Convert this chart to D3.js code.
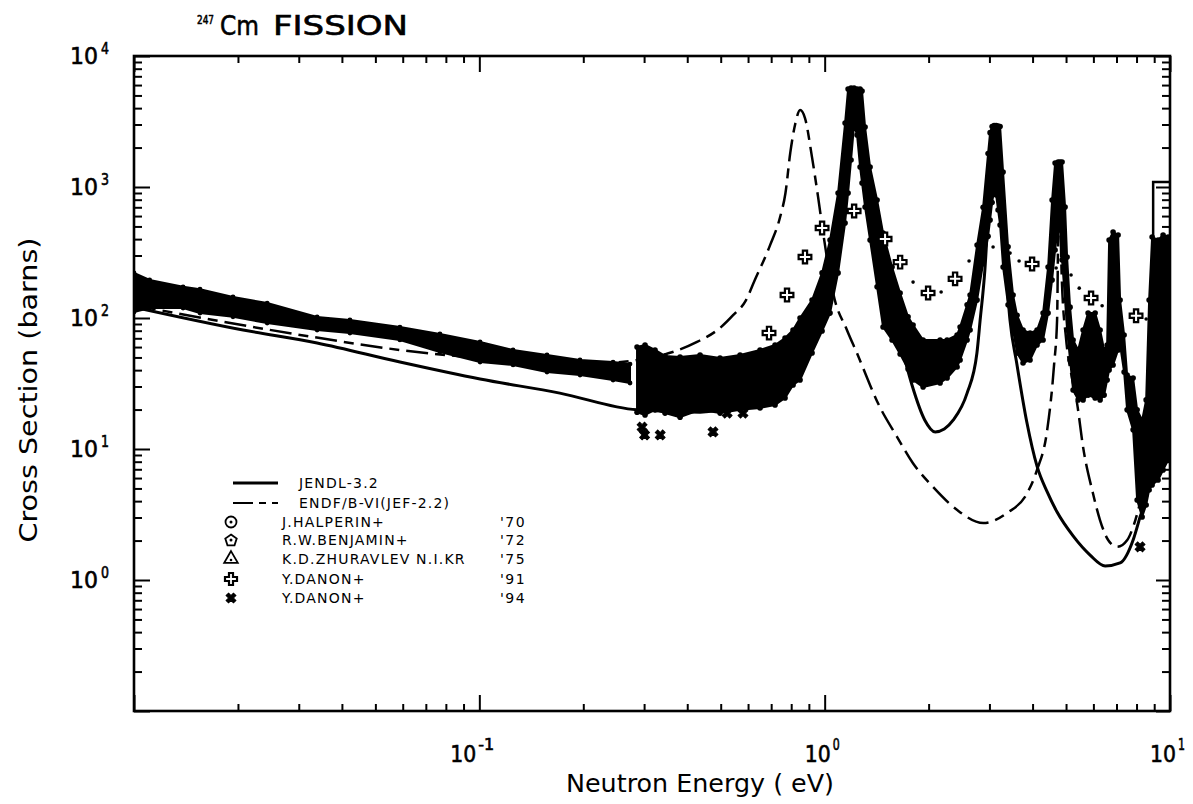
<!DOCTYPE html>
<html>
<head>
<meta charset="utf-8">
<title>247Cm fission cross section</title>
<script src="https://cdn.jsdelivr.net/npm/d3@7"></script>
<style>
  html, body { margin: 0; padding: 0; background: #fff; }
  svg { display: block; }
  text { font-family: "DejaVu Sans", "Liberation Sans", sans-serif; fill: #000; }
</style>
</head>
<body>
<svg id="chart" width="1193" height="804"></svg>
<script>
// ---------- Evaluated data: [energy (eV), cross section (b)] ----------
const jendlCurve = [
  [0.0100,121],[0.0207,81],[0.0339,64.5],[0.0589,46.1],[0.1005,34.2],[0.171,26.7],
  [0.286,19.9],[0.436,19.1],[0.569,21.7],[0.743,29.3],[0.810,38],[0.908,81],
  [1.00,195],[1.072,470],[1.13,1350],[1.169,3240],[1.20,4950],[1.22,5300],
  [1.236,4760],[1.28,2970],[1.336,1350],[1.41,560],[1.507,195],[1.652,68],
  [1.79,30.8],[1.95,16.6],[2.09,13.5],[2.22,14.2],[2.355,16.6],[2.585,26.7],
  [2.76,54],[2.82,96.6],[2.91,232],[2.99,796],[3.05,2285],[3.09,2820],
  [3.16,2285],[3.24,796],[3.35,232],[3.44,96.6],[3.60,45],[3.85,16],
  [4.12,7.4],[4.41,4.7],[4.71,3.3],[5.24,2.17],[5.87,1.55],[6.49,1.28],
  [7.17,1.35],[7.82,2.02],[8.19,3.03],[8.62,4.87],[8.85,9],[8.937,11]
];
const jendlStep = [[8.937,11],[8.937,1090],[10,1090]];

const endfCurve = [
  [0.0100,125],[0.033,71.6],[0.0589,57],[0.1005,49.5],[0.228,45.3],[0.286,47.8],
  [0.363,55],[0.427,65.6],[0.498,84],[0.543,105],[0.592,137],[0.625,190],
  [0.695,360],[0.743,590],[0.77,900],[0.795,1820],[0.823,3080],[0.849,3870],
  [0.877,3360],[0.919,1690],[0.957,840],[0.99,446],[1.058,155],[1.16,81],
  [1.24,54],[1.445,20.9],[1.62,12.4],[1.80,7.82],[2.06,5.13],[2.42,3.42],
  [2.88,2.72],[3.37,3.24],[3.86,4.61],[4.12,6.92],[4.41,14.0],[4.62,45],
  [4.71,96.6],[4.75,600],[4.78,1300],[4.81,650],[4.86,200],[5.0,70],[5.2,35],
  [5.38,22.4],[5.60,10.4],[5.98,4.61],[6.27,2.87],[6.62,2.02],[7.03,1.79],
  [7.52,2.02],[7.82,2.54],[8.3,4.5],[8.7,8],[8.937,11.1],[10,11.1]
];

// ---------- Measured data ----------
// Halperin / Benjamin / Zhuravlev thermal region, as [E, lower, upper]
const thermalBand = [
  [0.0100,111,221],[0.0111,119,195],[0.01387,119,173],[0.01553,109,166],
  [0.01935,102,145],[0.0243,91.6,130],[0.0339,81,102],[0.0422,76.7,96.6],
  [0.0589,68,85.3],[0.0769,55,75.5],[0.1005,46.1,65.6],[0.1252,43.8,57],
  [0.157,38.7,52.2],[0.1957,36.7,47.8],[0.2439,33.6,46.1],[0.2731,31.9,44.5]
];

// Danon '94 resonance data, as [E, lower, upper]
const danon94Band = [
  [0.2862,19.1,60.1],[0.3019,18.2,62.2],[0.3227,19.9,57],[0.3449,18.8,51.3],
  [0.3813,17.5,50.4],[0.4357,19.9,52.2],[0.4978,18.8,49.5],[0.5689,19.9,52.2],
  [0.6500,20.6,57],[0.7184,21.7,62.2],[0.7679,24.5,70.3],[0.8100,30.8,81],
  [0.8487,33.6,100],[0.9194,54.1,137],[0.9829,79.6,221],[1.0366,109,394],
  [1.0935,221,900],[1.1458,531,3080],[1.1690,900,5600],[1.1924,1607,5700],
  [1.2166,2970,5700],[1.2410,2495,5600],[1.2664,1420,5600],[1.2831,1073,5400],
  [1.3092,703,2870],[1.3536,394,1420],[1.4184,173,796],[1.4760,85.3,446],
  [1.5672,68,245],[1.6537,53.1,155],[1.7438,40.8,102],[1.803,33.6,88.4],
  [1.9275,29.7,68],[2.159,31.9,68],[2.262,34.8,68],[2.418,42.3,74.2],
  [2.467,47.8,85.3],[2.585,68,126],[2.637,81,150],[2.763,137,360],
  [2.876,260,700],[2.973,420,1800],[3.013,560,2600],[3.054,760,2900],
  [3.095,948,2950],[3.137,869,2950],[3.178,667,2920],[3.221,513,2900],
  [3.286,245,1300],[3.397,126,350],[3.512,81,150],[3.607,54.1,105],
  [3.754,45.3,81],[3.933,47.8,76.7],[4.121,62.2,81],[4.290,68,109],
  [4.436,109,245],[4.556,195,796],[4.648,330,1525],[4.742,513,1550],
  [4.806,470,1550],[4.869,277,1550],[4.968,137,703],[5.035,81,292],
  [5.136,47.8,121],[5.240,28.2,68],[5.42,23.7,57],[5.602,23.7,81],
  [5.792,25.8,109],[6.07,24.5,109],[6.275,23.7,81],[6.447,25.8,57],
  [6.576,33.6,62.2],[6.664,40.1,394],[6.842,43.8,453],[7.075,57,430],
  [7.170,62.2,137],[7.364,38.7,74.2],[7.513,19.9,36.7],[7.820,14.0,34.8],
  [8.032,4.08,19.9],[8.304,3.03,16.6],[8.53,3.74,23.7],[8.70,4.87,137],
  [8.876,5.31,415],[9.237,5.80,394],[9.550,6.92,430],[9.874,8.24,415]
];
// isolated Danon '94 points
const danon94Points = [
  [0.296,14.7],[0.301,12.8],[0.334,12.8],[0.475,13.5],[0.522,18.8],[0.580,18.8],[8.19,1.79]
];

// Danon '91 points
const danon91Points = [
  [0.690,76.7],[0.778,150],[0.877,292],[0.983,486],[1.217,656],[1.496,401],
  [1.654,267],[1.993,155],[2.386,199],[3.987,258],[5.908,142],[7.975,104]
];
const danon91Fine = [
  [1.803,188],[2.174,158],[2.619,272],[3.074,348],[3.443,313],[3.656,272],
  [4.68,241],[5.17,213],[5.46,169],[6.36,124],[8.53,98.2],[9.68,121]
];

// ---------- Axis labels and legend ----------
const xLabelDecades = [0.1, 1, 10];
const yLabelDecades = [1, 10, 100, 1000, 10000];
const legendRows = [
  { kind: "solid",    name: "JENDL-3.2",            year: "" },
  { kind: "dashed",   name: "ENDF/B-VI(JEF-2.2)",   year: "" },
  { kind: "circle",   name: "J.HALPERIN+",          year: "'70" },
  { kind: "pentagon", name: "R.W.BENJAMIN+",        year: "'72" },
  { kind: "triangle", name: "K.D.ZHURAVLEV N.I.KR", year: "'75" },
  { kind: "plus",     name: "Y.DANON+",             year: "'91" },
  { kind: "cross",    name: "Y.DANON+",             year: "'94" }
];

// ---------- Drawing ----------
const svg = d3.select("#chart");
const plot = { left: 134, right: 1170, top: 56, bottom: 711 };
const x = d3.scaleLog().domain([0.01, 10]).range([plot.left, plot.right]);
const y = d3.scaleLog().domain([0.1, 1e4]).range([plot.bottom, plot.top]);
const isDecade = v => Math.abs(Math.log10(v) - Math.round(Math.log10(v))) < 1e-9;

svg.append("rect").attr("width", 1193).attr("height", 804).attr("fill", "#fff");

svg.append("clipPath").attr("id", "plotClip").append("rect")
  .attr("x", plot.left).attr("y", plot.top)
  .attr("width", plot.right - plot.left).attr("height", plot.bottom - plot.top);

const data = svg.append("g").attr("clip-path", "url(#plotClip)");

// measured bands, with the individual points along their edges
const band = d3.area().x(d => x(d[0])).y0(d => y(d[1])).y1(d => y(d[2]));
[[thermalBand, 2.4], [danon94Band, 2.8]].forEach(([rows, r]) => {
  data.append("path").datum(rows).attr("d", band)
    .attr("fill", "#000").attr("stroke", "#000").attr("stroke-width", 2)
    .attr("stroke-linejoin", "round");
  const edges = rows.flatMap(row => [[row[0], row[1]], [row[0], row[2]]]);
  data.append("g").selectAll("circle").data(edges).join("circle")
    .attr("cx", d => x(d[0])).attr("cy", d => y(d[1])).attr("r", r).attr("fill", "#000");
});

// evaluated curves
const smooth = d3.line().x(d => x(d[0])).y(d => y(d[1])).curve(d3.curveMonotoneX);
const straight = d3.line().x(d => x(d[0])).y(d => y(d[1]));
const endfDash = "22,7,10,7";
data.append("path").datum(jendlCurve).attr("d", smooth)
  .attr("fill", "none").attr("stroke", "#000").attr("stroke-width", 3);
data.append("path").datum(jendlStep).attr("d", straight)
  .attr("fill", "none").attr("stroke", "#000").attr("stroke-width", 2.5);
data.append("path").datum(endfCurve).attr("d", smooth)
  .attr("fill", "none").attr("stroke", "#000").attr("stroke-width", 2.5)
  .attr("stroke-dasharray", endfDash);

// markers
const crossSym = d3.symbol().type(d3.symbolCross);
function plusMarker(g, size) {
  g.append("path").attr("d", crossSym.size(size)())
    .attr("fill", "#fff").attr("stroke", "#000").attr("stroke-width", 2.2);
}
function xMarker(g, size) {
  g.append("path").attr("d", crossSym.size(size)()).attr("transform", "rotate(45)")
    .attr("fill", "#000").attr("stroke", "#000").attr("stroke-width", 1);
}
data.append("g").selectAll("g").data(danon94Points).join("g")
  .attr("transform", d => `translate(${x(d[0])},${y(d[1])})`)
  .each(function () { xMarker(d3.select(this), 60); });
data.append("g").selectAll("circle").data(danon91Fine).join("circle")
  .attr("cx", d => x(d[0])).attr("cy", d => y(d[1])).attr("r", 1.8).attr("fill", "#000");
data.append("g").selectAll("g").data(danon91Points).join("g")
  .attr("transform", d => `translate(${x(d[0])},${y(d[1])})`)
  .each(function () { plusMarker(d3.select(this), 90); });

// axes: ticks point inward on all four sides
const allTicks = x.ticks();
const xMinor = allTicks.filter(v => !isDecade(v));
const xMajor = allTicks.filter(isDecade);
const yAll = y.ticks();
const yMinor = yAll.filter(v => !isDecade(v));
const yMajor = yAll.filter(isDecade);
const axes = svg.append("g");
function addAxis(gen, transform, values, size) {
  const g = axes.append("g").attr("transform", transform)
    .call(gen.tickValues(values).tickSize(size).tickFormat(""));
  g.select(".domain").remove();
  g.selectAll("line").attr("stroke", "#000").attr("stroke-width", 2);
}
addAxis(d3.axisBottom(x), `translate(0,${plot.bottom})`, xMinor, -7);
addAxis(d3.axisBottom(x), `translate(0,${plot.bottom})`, xMajor, -16);
addAxis(d3.axisTop(x), `translate(0,${plot.top})`, xMinor, -7);
addAxis(d3.axisTop(x), `translate(0,${plot.top})`, xMajor, -16);
addAxis(d3.axisLeft(y), `translate(${plot.left},0)`, yMinor, -8);
addAxis(d3.axisLeft(y), `translate(${plot.left},0)`, yMajor, -16);
addAxis(d3.axisRight(y), `translate(${plot.right},0)`, yMinor, -8);
addAxis(d3.axisRight(y), `translate(${plot.right},0)`, yMajor, -14);
axes.append("rect").attr("x", plot.left).attr("y", plot.top)
  .attr("width", plot.right - plot.left).attr("height", plot.bottom - plot.top)
  .attr("fill", "none").attr("stroke", "#000").attr("stroke-width", 2.6);

// text helper: optional fixed advance width for plotter-style lettering
function txt(g, s, px, py, size, width, anchor) {
  const t = g.append("text").attr("x", px).attr("y", py)
    .attr("font-size", size).text(s);
  if (anchor) t.attr("text-anchor", anchor);
  if (width) t.attr("textLength", width).attr("lengthAdjust", "spacingAndGlyphs");
  return t;
}
const heavy = t => t.attr("stroke", "#000").attr("stroke-width", 0.6);

// tick labels
const labels = svg.append("g");
yLabelDecades.forEach(v => {
  const ty = y(v);
  heavy(txt(labels, "10", 70, ty + 8, 23, 28));
  heavy(txt(labels, String(Math.round(Math.log10(v))), 101, ty - 2, 15, 8));
});
xLabelDecades.forEach(v => {
  const tx = x(v);
  const e = String(Math.round(Math.log10(v)));
  const right = tx + 15;
  const expW = e.length > 1 ? 16 : 7;
  heavy(txt(labels, e, right - expW, 750, 15, expW));
  heavy(txt(labels, "10", right - expW - 28, 762, 23, 26));
});

// axis titles
txt(labels, "Neutron Energy ( eV)", 700, 792, 25, 268, "middle");
txt(labels, "Cross Section (barns)", 0, 0, 25, 305, "middle")
  .attr("transform", "translate(37,390) rotate(-90)");

// title
heavy(txt(labels, "247", 197, 24, 12, 17));
heavy(txt(labels, "Cm", 220, 35, 27, 39));
heavy(txt(labels, "FISSION", 273, 35, 27, 135));

// legend
const legend = svg.append("g");
const rowY = [483, 503, 522, 540, 559, 579, 598];
const legendFont = 14;
legendRows.forEach((r, i) => {
  const ly = rowY[i];
  if (r.kind === "solid" || r.kind === "dashed") {
    legend.append("line").attr("x1", 233).attr("x2", 278).attr("y1", ly).attr("y2", ly)
      .attr("stroke", "#000").attr("stroke-width", r.kind === "solid" ? 3 : 2.2)
      .attr("stroke-dasharray", r.kind === "dashed" ? "20,6,7,6" : null);
    txt(legend, r.name, 299, ly + 5, legendFont).attr("letter-spacing", 1.2);
    return;
  }
  const m = legend.append("g").attr("transform", `translate(231,${ly})`);
  if (r.kind === "circle") {
    m.append("circle").attr("r", 5.5).attr("fill", "#fff").attr("stroke", "#000").attr("stroke-width", 1.8);
    m.append("circle").attr("r", 1.5).attr("fill", "#000");
  } else if (r.kind === "pentagon") {
    m.append("path").attr("d", d3.line()(d3.range(5).map(k => {
        const a = -Math.PI / 2 + k * 2 * Math.PI / 5;
        return [6 * Math.cos(a), 6 * Math.sin(a) + 0.5];
      })) + "Z")
      .attr("fill", "#fff").attr("stroke", "#000").attr("stroke-width", 1.8);
    m.append("circle").attr("r", 1.5).attr("fill", "#000");
  } else if (r.kind === "triangle") {
    m.append("path").attr("d", d3.symbol().type(d3.symbolTriangle).size(80)())
      .attr("fill", "#fff").attr("stroke", "#000").attr("stroke-width", 1.8);
    m.append("circle").attr("r", 1.3).attr("cy", 1).attr("fill", "#000");
  } else if (r.kind === "plus") {
    plusMarker(m, 80);
  } else {
    xMarker(m, 60);
  }
  txt(legend, r.name, 282, ly + 5, legendFont).attr("letter-spacing", 1.2);
  txt(legend, r.year, 500, ly + 5, legendFont).attr("letter-spacing", 1.5);
});
</script>
</body>
</html>
